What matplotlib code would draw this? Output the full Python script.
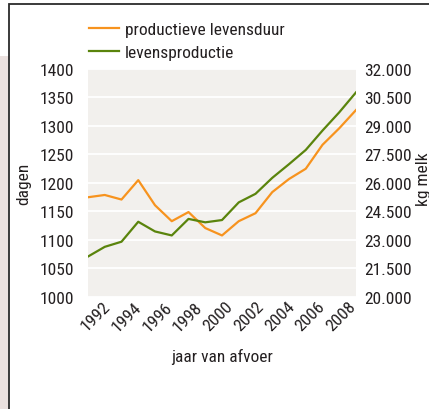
import matplotlib
matplotlib.use('Agg')
import matplotlib.pyplot as plt
from matplotlib.patches import Rectangle
from matplotlib.ticker import FuncFormatter

# jaar van afvoer, productieve levensduur (dagen), levensproductie (kg melk)
years = list(range(1992, 2009))
levensduur = [1175, 1179, 1171, 1205, 1161, 1133, 1149, 1121, 1108,
              1133, 1147, 1184, 1207, 1225, 1267, 1296, 1328]
levensproductie = [22130, 22640, 22910, 23960, 23450, 23240, 24110, 23930, 24050,
                   24980, 25430, 26270, 26990, 27740, 28760, 29720, 30770]
xticks = list(range(1992, 2009, 2))
dagen_ticks = list(range(1000, 1401, 50))
kg_ticks = list(range(20000, 32001, 1500))

ORANGE = '#f7931e'
GREEN = '#5a840c'
TXT = '#231f20'
FS = 12.5

plt.rcParams['font.family'] = ['Roboto Condensed', 'Archivo Narrow', 'PT Sans Narrow',
                               'Liberation Sans Narrow', 'Roboto']
plt.rcParams['font.size'] = FS

W, H = 429, 410
fig = plt.figure(figsize=(W / 100, H / 100), dpi=100)

# achtergrondstrook links + kader
fig.patches.append(Rectangle((0, 0), 9 / W, 0.86, transform=fig.transFigure,
                             facecolor='#ebe1df', edgecolor='none', zorder=0))
fig.patches.append(Rectangle((9 / W, -0.02), 1.0, 1 - 5 / H + 0.02, transform=fig.transFigure,
                             fill=False, edgecolor='#2b2b2b', lw=1.3, zorder=1))

ax = fig.add_axes([88 / W, 1 - 298 / H, (356 - 88) / W, (298 - 70) / H])
ax.set_facecolor('#f2f0ed')
ax2 = ax.twinx()

l1, = ax.plot(years, levensduur, color=ORANGE, lw=1.6, label='productieve levensduur', zorder=3)
l2, = ax2.plot(years, levensproductie, color=GREEN, lw=1.6, label='levensproductie', zorder=3)

ax.set_xlim(1992, 2008)
ax.set_ylim(1000, 1400)
ax2.set_ylim(20000, 32000)
ax.set_yticks(dagen_ticks)
ax2.set_yticks(kg_ticks)
ax2.yaxis.set_major_formatter(FuncFormatter(lambda v, p: f'{v:,.0f}'.replace(',', '.')))
# labels staan in het origineel iets dichter op elkaar dan de datapunten
ax.set_xticks([1993.2 + (y - 1992) * 0.915 for y in xticks])
ax.set_xticklabels([str(y) for y in xticks], rotation=45, ha='right', va='center',
                   rotation_mode='anchor')

ax.grid(axis='y', color='white', lw=1.3)
ax.set_axisbelow(True)
for a in (ax, ax2):
    for s in a.spines.values():
        s.set_visible(False)
    a.tick_params(length=0, colors=TXT, labelsize=FS)
ax.tick_params(axis='y', pad=10)
ax.tick_params(axis='x', pad=5)
ax2.tick_params(axis='y', pad=6)

ax.set_ylabel('dagen', color=TXT, fontsize=FS)
ax2.set_ylabel('kg melk', color=TXT, fontsize=FS, rotation=90)
ax.yaxis.set_label_coords(-0.213, 0.5)
ax2.yaxis.set_label_coords(1.224, 0.522)
ax.set_xlabel('jaar van afvoer', color=TXT, fontsize=FS, labelpad=10)

fig.legend(handles=[l1, l2], loc='upper left', bbox_to_anchor=(89 / W, 1 - 23 / H),
           frameon=False, borderpad=0, borderaxespad=0, handlelength=1.7,
           handletextpad=0.35, labelspacing=0.42, fontsize=FS, labelcolor=TXT)

fig.savefig('out.png', dpi=100)
